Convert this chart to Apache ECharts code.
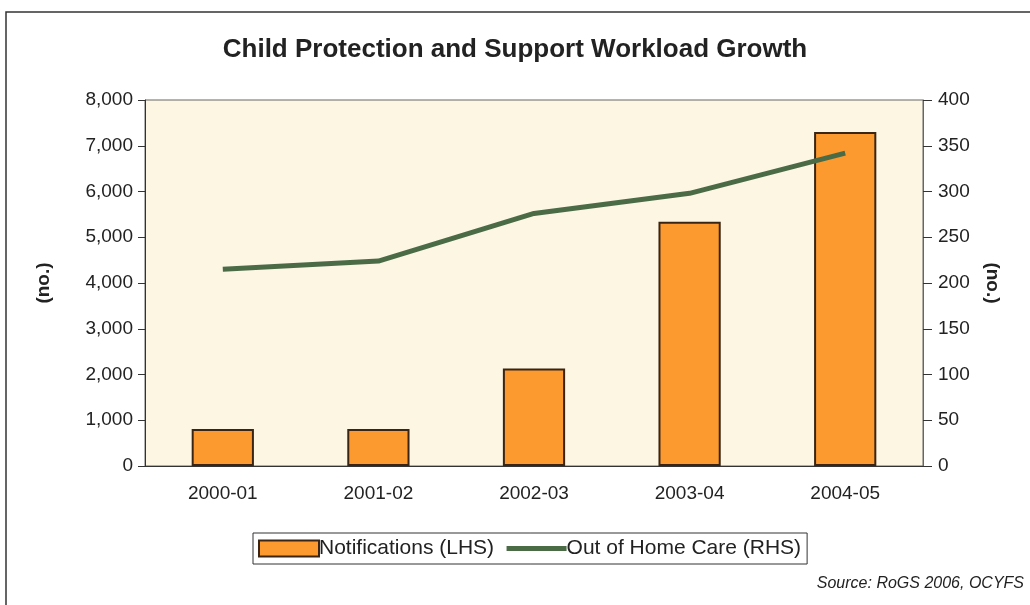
<!DOCTYPE html>
<html>
<head>
<meta charset="utf-8">
<script src="https://cdn.jsdelivr.net/npm/echarts@6/dist/echarts.min.js"></script>
<style>
  html, body { margin: 0; padding: 0; background: #fff; }
  #chart { width: 1030px; height: 605px; }
</style>
</head>
<body>
<div id="chart"></div>
<script>
// 数据
var years = ['2000-01', '2001-02', '2002-03', '2003-04', '2004-05'];
var notifications = [810, 810, 2130, 5340, 7300];
var outOfHomeCare = [215, 224, 276, 298, 342];
var leftTicks = [0, 8000, 1000];
var rightTicks = [0, 400, 50];

var chart = echarts.init(document.getElementById('chart'));
var font = 'Liberation Sans, Arial, sans-serif';

var option = {
    backgroundColor: '#fff',
    textStyle: { fontFamily: font, color: '#222' },
    title: {
        text: 'Child Protection and Support Workload Growth',
        left: 'center',
        top: 32,
        textStyle: { fontSize: 26, fontWeight: 'bold', color: '#222', fontFamily: font }
    },
    graphic: [
        {
            type: 'rect',
            shape: { x: 6, y: 12, width: 1100, height: 700 },
            style: { fill: 'none', stroke: '#333', lineWidth: 1.5 },
            silent: true
        },
        {
            type: 'text',
            right: 6,
            top: 576,
            style: { text: 'Source: RoGS 2006, OCYFS', font: 'italic 16px Liberation Sans, Arial', fill: '#222' }
        }
    ],
    legend: {
        left: 253,
        top: 533,
        padding: [5, 6, 5, 5],
        itemGap: 10,
        itemWidth: 60,
        itemHeight: 16,
        borderColor: '#333',
        borderWidth: 1,
        textStyle: { fontSize: 21, color: '#222', fontFamily: font, padding: [0, 0, 0, -5] },
        data: [
            { name: 'Notifications (LHS)', icon: 'rect' },
            { name: 'Out of Home Care (RHS)', itemStyle: { opacity: 0 }, lineStyle: { width: 5 } }
        ]
    },
    grid: {
        left: 145,
        right: 107,
        top: 100,
        bottom: 139,
        show: true,
        backgroundColor: '#fcf6e3',
        borderColor: '#666',
        borderWidth: 1
    },
    xAxis: {
        type: 'category',
        data: years,
        axisLine: { lineStyle: { color: '#333', width: 1 } },
        axisTick: { length: 7, lineStyle: { color: '#333' } },
        axisLabel: { fontSize: 19, color: '#222', margin: 18 }
    },
    yAxis: [
        {
            type: 'value',
            min: leftTicks[0],
            max: leftTicks[1],
            interval: leftTicks[2],
            name: '(no.)',
            nameLocation: 'middle',
            nameRotate: 90,
            nameGap: 92,
            nameTextStyle: { fontSize: 19, fontWeight: 'bold', color: '#222' },
            axisLine: { show: true, lineStyle: { color: '#333' } },
            axisTick: { show: true, length: 7, lineStyle: { color: '#333' } },
            splitLine: { show: false },
            axisLabel: {
                fontSize: 19, color: '#222', margin: 12,
                formatter: function (v) { return v.toLocaleString('en-US'); }
            }
        },
        {
            type: 'value',
            position: 'right',
            min: rightTicks[0],
            max: rightTicks[1],
            interval: rightTicks[2],
            name: '(no.)',
            nameLocation: 'middle',
            nameRotate: -90,
            nameGap: 60,
            nameTextStyle: { fontSize: 19, fontWeight: 'bold', color: '#222' },
            axisLine: { show: true, lineStyle: { color: '#666' } },
            axisTick: { show: true, length: 9, lineStyle: { color: '#333' } },
            splitLine: { show: false },
            axisLabel: { fontSize: 19, color: '#222', margin: 15 }
        }
    ],
    series: [
        {
            name: 'Notifications (LHS)',
            type: 'bar',
            yAxisIndex: 0,
            data: notifications,
            barWidth: '40%',
            itemStyle: { color: '#fd9a2f', borderColor: '#3a2414', borderWidth: 2 }
        },
        {
            name: 'Out of Home Care (RHS)',
            type: 'line',
            yAxisIndex: 1,
            data: outOfHomeCare,
            symbol: 'none',
            lineStyle: { color: '#4b6b47', width: 5 },
            itemStyle: { color: '#4b6b47' }
        }
    ]
};
chart.setOption(option);
</script>
</body>
</html>
